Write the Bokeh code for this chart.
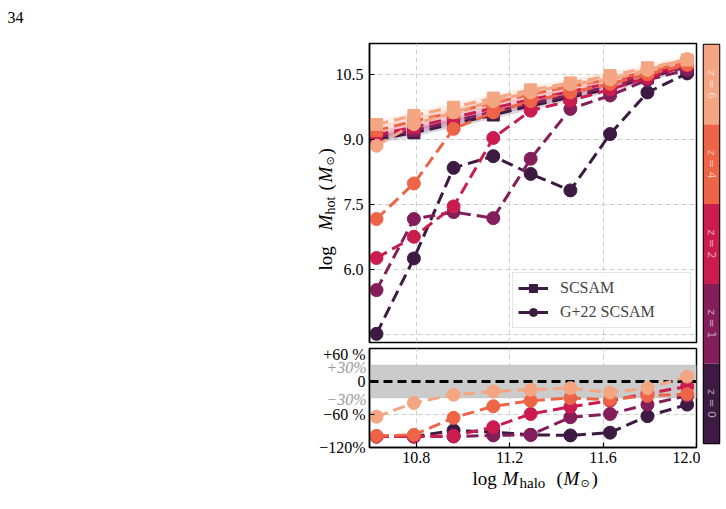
import math

from bokeh.core.properties import value
from bokeh.embed import file_html
from bokeh.layouts import column, row
from bokeh.models import (BoxAnnotation, FixedTicker, GridBox, Label, Legend,
                          LegendItem, Span)
from bokeh.plotting import figure
from bokeh.resources import INLINE

# ---------------------------------------------------------------- data
log_mhalo = [10.63, 10.79, 10.96, 11.13, 11.29, 11.46, 11.63, 11.79, 11.96]

redshifts = ["0", "1", "2", "4", "6"]
z_colors = ["#3c1a41", "#831e5b", "#cb1c4f", "#ee6446", "#f4a683"]

# SC-SAM hot gas mass (log Msun)
scsam_z0 = [9.00, 9.15, 9.36, 9.56, 9.77, 9.97, 10.17, 10.42, 10.68]
scsam_z1 = [9.05, 9.20, 9.42, 9.63, 9.83, 10.02, 10.22, 10.45, 10.70]
scsam_z2 = [9.10, 9.28, 9.50, 9.72, 9.92, 10.10, 10.30, 10.50, 10.74]
scsam_z4 = [9.20, 9.42, 9.62, 9.84, 10.04, 10.22, 10.38, 10.56, 10.78]
scsam_z6 = [9.34, 9.55, 9.74, 9.95, 10.14, 10.30, 10.47, 10.65, 10.83]

# G+22 SC-SAM hot gas mass (log Msun)
g22_z0 = [4.51, 6.25, 8.34, 8.61, 8.20, 7.82, 9.12, 10.08, 10.52]
g22_z1 = [5.52, 7.16, 7.32, 7.18, 8.55, 9.70, 10.01, 10.37, 10.60]
g22_z2 = [6.26, 6.75, 7.45, 9.03, 9.66, 9.89, 10.15, 10.42, 10.70]
g22_z4 = [7.16, 7.98, 9.24, 9.62, 9.88, 10.08, 10.28, 10.50, 10.72]
g22_z6 = [8.85, 9.35, 9.62, 9.88, 10.08, 10.27, 10.38, 10.60, 10.85]

# relative difference G+22 vs SC-SAM (per cent)
diff_z0 = [-100, -100, -89, -92, -97, -98, -93, -63, -42]
diff_z1 = [-100, -100, -100, -98, -97, -65, -59, -42, -26]
diff_z2 = [-100, -100, -99, -83, -59, -46, -35, -22, -9]
diff_z4 = [-99, -97, -66, -45, -35, -30, -33, -26, -23]
diff_z6 = [-64, -39, -24, -18, -15, -12, -20, -12, 9]

scsam = [scsam_z0, scsam_z1, scsam_z2, scsam_z4, scsam_z6]
g22 = [g22_z0, g22_z1, g22_z2, g22_z4, g22_z6]
diffs = [diff_z0, diff_z1, diff_z2, diff_z4, diff_z6]

x_ticks = [10.8, 11.2, 11.6, 12.0]
x_tick_labels = ["10.8", "11.2", "11.6", "12.0"]
mhot_grid = [4.5, 6.0, 7.5, 9.0, 10.5]
mhot_ticks = [6.0, 7.5, 9.0, 10.5]
mhot_tick_labels = ["6.0", "7.5", "9.0", "10.5"]
diff_ticks = [60, 0, -60, -120]
diff_tick_labels = ["+60 %", "0", "\u221260 %", "\u2212120%"]

# ---------------------------------------------------------------- style
SERIF = "Liberation Serif"
SANS = "DejaVu Sans"
GRID = "#cfcfcf"
DASH = "12 6"
LW = 3
MS = 13


def style_axis(ax):
    ax.axis_line_width = 1.5
    ax.major_tick_in = 5
    ax.major_tick_out = 0
    ax.minor_tick_line_color = None
    ax.major_tick_line_width = 1.2
    ax.major_label_text_font = SERIF
    ax.major_label_text_font_size = "16px"
    ax.major_label_text_color = "black"


def style_grid(g):
    g.grid_line_color = GRID
    g.grid_line_dash = "5 3"
    g.grid_line_width = 1


# ---------------------------------------------------------------- hot gas panel
p_main = figure(frame_width=327, frame_height=299, title=None,
                min_border_left=369, min_border_right=4,
                min_border_top=43, min_border_bottom=3,
                x_range=(10.6, 12.0), y_range=(4.31, 11.21),
                output_backend="svg", toolbar_location=None)
p_main.outline_line_color = "black"
p_main.outline_line_width = 1.5
p_main.xaxis.visible = False
style_axis(p_main.yaxis[0])
p_main.yaxis.ticker = FixedTicker(ticks=mhot_ticks)
p_main.yaxis.major_label_overrides = dict(zip(mhot_ticks, mhot_tick_labels))
p_main.yaxis.major_label_standoff = 6
p_main.xgrid.ticker = FixedTicker(ticks=x_ticks)
p_main.ygrid.ticker = FixedTicker(ticks=mhot_grid)
style_grid(p_main.xgrid[0])
style_grid(p_main.ygrid[0])

for s, c in zip(scsam, z_colors):
    lo = [v - 0.09 for v in s]
    hi = [v + 0.09 for v in s]
    p_main.varea(x=log_mhalo, y1=lo, y2=hi, fill_color=c, fill_alpha=0.18)

for s, g, c in zip(scsam, g22, z_colors):
    p_main.line(log_mhalo, g, line_color=c, line_width=LW, line_dash=DASH)
    p_main.scatter(log_mhalo, g, marker="circle", size=MS, fill_color=c,
                   line_color=c)
    p_main.line(log_mhalo, s, line_color=c, line_width=LW, line_dash=DASH)
    p_main.scatter(log_mhalo, s, marker="square", size=MS - 1, fill_color=c,
                   line_color=c)

# legend handles: solid line + marker, kept hidden in the plot area
dark = z_colors[0]
leg_l1 = p_main.line(log_mhalo, scsam_z0, line_color=dark, line_width=LW,
                     visible=False)
leg_m1 = p_main.scatter(log_mhalo, scsam_z0, marker="square", size=MS - 1,
                        fill_color=dark, line_color=dark, visible=False)
leg_l2 = p_main.line(log_mhalo, g22_z0, line_color=dark, line_width=LW,
                     visible=False)
leg_m2 = p_main.scatter(log_mhalo, g22_z0, marker="circle", size=MS,
                        fill_color=dark, line_color=dark, visible=False)
legend = Legend(items=[LegendItem(label="SCSAM", renderers=[leg_l1, leg_m1]),
                       LegendItem(label="G+22 SCSAM",
                                  renderers=[leg_l2, leg_m2])],
                location=(143, 14), glyph_width=30, glyph_height=20,
                label_height=20, label_width=125, label_standoff=12,
                padding=5, spacing=4,
                label_text_font=SERIF, label_text_font_size="16px",
                border_line_color="#cccccc", border_line_width=1.5,
                background_fill_color="white", background_fill_alpha=0.85,
                inactive_fill_alpha=0.0)
p_main.add_layout(legend)

# ---------------------------------------------------------------- difference panel
p_diff = figure(frame_width=327, frame_height=99, title=None,
                min_border_left=369, min_border_right=4,
                min_border_top=3, min_border_bottom=62,
                x_range=(10.6, 12.0), y_range=(-120, 60),
                output_backend="svg", toolbar_location=None)
p_diff.outline_line_color = "black"
p_diff.outline_line_width = 1.5
style_axis(p_diff.xaxis[0])
style_axis(p_diff.yaxis[0])
style_grid(p_diff.xgrid[0])
style_grid(p_diff.ygrid[0])
p_diff.xaxis.ticker = FixedTicker(ticks=x_ticks)
p_diff.xaxis.major_label_overrides = dict(zip(x_ticks, x_tick_labels))
p_diff.xaxis.major_label_standoff = 4
p_diff.yaxis.ticker = FixedTicker(ticks=diff_ticks)
p_diff.yaxis.major_label_overrides = dict(zip(diff_ticks, diff_tick_labels))
p_diff.yaxis.major_label_standoff = 4

p_diff.add_layout(BoxAnnotation(bottom=-30, top=30, fill_color="#cbcbcb",
                                fill_alpha=1.0, line_color="#b5b5b5",
                                line_width=1, level="underlay"))
p_diff.add_layout(Span(location=0, dimension="width", line_color="black",
                       line_width=3, line_dash="9 5", level="underlay"))

for d, c in zip(diffs, z_colors):
    p_diff.line(log_mhalo, d, line_color=c, line_width=LW, line_dash=DASH)
    p_diff.scatter(log_mhalo, d, marker="circle", size=MS, fill_color=c,
                   line_color=c)

# ---------------------------------------------------------------- redshift colour bar
p_cbar = figure(frame_width=16, frame_height=399, title=None,
                min_border_left=3, min_border_right=7,
                min_border_top=44, min_border_bottom=66,
                x_range=(0, 1), y_range=(0, len(redshifts)),
                x_axis_type=None, y_axis_type=None,
                output_backend="svg", toolbar_location=None)
p_cbar.grid.visible = False
p_cbar.outline_line_color = "black"
p_cbar.outline_line_width = 1.5
idx = list(range(len(redshifts)))
p_cbar.quad(left=[0] * len(idx), right=[1] * len(idx),
            bottom=idx, top=[i + 1 for i in idx],
            fill_color=z_colors, line_color=None)
p_cbar.text(x=[0.5] * len(idx), y=[i + 0.5 for i in idx],
            text=["z = " + z for z in redshifts], angle=-math.pi / 2,
            text_align="center", text_baseline="middle",
            text_font=value(SANS), text_font_size="11px",
            text_color="white", text_alpha=0.6)

# ---------------------------------------------------------------- text layer
# transparent page-sized canvas (pixel coordinates, y downwards) that carries
# the axis titles, the page number and the grey +/-30% band labels
W, H = 726, 509
p_text = figure(width=W, height=H, title=None, min_border=0,
                x_range=(0, W), y_range=(H, 0),
                x_axis_type=None, y_axis_type=None,
                output_backend="svg", toolbar_location=None)
p_text.grid.visible = False
p_text.outline_line_color = None
p_text.background_fill_alpha = 0
p_text.border_fill_alpha = 0


def put(x, y, text, size, angle=0.0, italic=False, font=SERIF,
        color="black", align="left"):
    p_text.add_layout(Label(x=x, y=y, text=text, angle=angle,
                            text_align=align, text_baseline="middle",
                            text_font=font, text_font_size=size,
                            text_color=color,
                            text_font_style="italic" if italic else "normal"))


# page number
put(7, 17, "34", "16px")

# y title: log M_hot (M_sun), reading upwards
R = math.pi / 2
put(325, 270, "log", "19px", angle=R)
put(325, 230, "M", "19px", angle=R, italic=True)
put(330, 214, "hot", "14px", angle=R)
put(325, 190, "(", "19px", angle=R)
put(325, 182, "M", "19px", angle=R, italic=True)
put(330, 165, "\u2299", "11px", angle=R, font=SANS)
put(325, 154, ")", "19px", angle=R)

# x title: log M_halo (M_sun)
put(472, 478, "log", "19px")
put(502, 478, "M", "19px", italic=True)
put(519, 482, "halo", "15px")
put(556, 478, "(", "19px")
put(563, 478, "M", "19px", italic=True)
put(580, 483, "\u2299", "11px", font=SANS)
put(591, 478, ")", "19px")

# grey labels of the +/-30% band
put(366, 367, "+30%", "16px", italic=True, color="#9a9a9a", align="right")
put(366, 399, "\u221230%", "16px", italic=True, color="#9a9a9a",
    align="right")

panels = row(column(p_main, p_diff), p_cbar)
page = GridBox(children=[(panels, 0, 0), (p_text, 0, 0)])
open("out.html", "w").write(file_html(page, INLINE))
